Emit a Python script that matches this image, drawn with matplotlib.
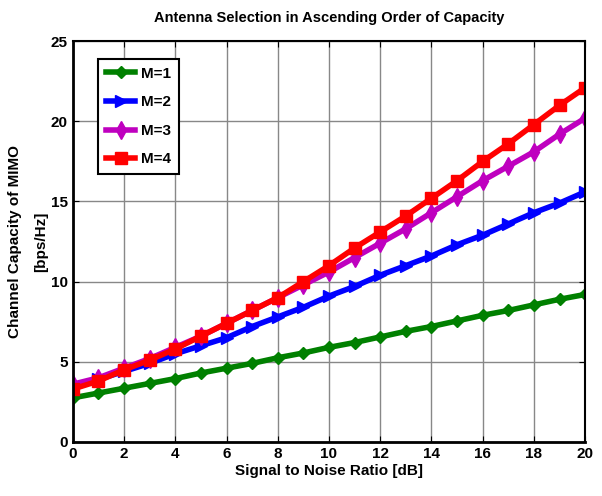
import matplotlib.pyplot as plt

plt.rcParams['font.family'] = ['Liberation Sans', 'DejaVu Sans']
plt.rcParams['font.weight'] = 'bold'

snr = list(range(0, 21))
m1 = [2.75, 3.05, 3.35, 3.65, 3.95, 4.3, 4.6, 4.9, 5.25, 5.55, 5.9,
      6.2, 6.55, 6.9, 7.2, 7.55, 7.9, 8.2, 8.55, 8.9, 9.2]
m2 = [3.5, 3.9, 4.4, 4.9, 5.5, 6.0, 6.5, 7.2, 7.8, 8.4, 9.1,
      9.7, 10.4, 11.0, 11.6, 12.3, 12.9, 13.6, 14.3, 14.9, 15.6]
m3 = [3.6, 4.0, 4.6, 5.2, 5.9, 6.6, 7.4, 8.2, 9.0, 9.8, 10.6,
      11.5, 12.4, 13.3, 14.3, 15.3, 16.3, 17.2, 18.1, 19.2, 20.2]
m4 = [3.3, 3.8, 4.5, 5.1, 5.8, 6.6, 7.4, 8.2, 9.0, 10.0, 11.0,
      12.1, 13.1, 14.1, 15.2, 16.3, 17.5, 18.6, 19.8, 21.0, 22.1]
labels = ['M=1', 'M=2', 'M=3', 'M=4']

fig = plt.figure(figsize=(6.02, 4.96), dpi=100)
ax = fig.add_axes([0.121, 0.109, 0.851, 0.808])

ax.plot(snr, m1, color='green', marker='D', markersize=6, linewidth=4, label=labels[0])
ax.plot(snr, m2, color='blue', marker='>', markersize=9, linewidth=4, label=labels[1])
ax.plot(snr, m3, color='m', marker='d', markersize=9, linewidth=4, label=labels[2])
ax.plot(snr, m4, color='red', marker='s', markersize=8, linewidth=4, label=labels[3])

ax.set_xlim(0, 20)
ax.set_ylim(0, 25)
ax.set_xticks(range(0, 21, 2))
ax.set_yticks(range(0, 26, 5))
ax.grid(True, color='#888888', linewidth=1, linestyle='-')
ax.tick_params(direction='in', labelsize=11, length=4, top=True, right=True)
for s in ax.spines.values():
    s.set_linewidth(1.5)
ax.spines['left'].set_linewidth(2)
ax.spines['bottom'].set_linewidth(2)

ax.set_title('Antenna Selection in Ascending Order of Capacity', fontsize=10.5,
             fontweight='bold', pad=14)
ax.set_xlabel('Signal to Noise Ratio [dB]', fontsize=11, fontweight='bold', labelpad=2)
ax.set_ylabel('Channel Capacity of MIMO\n[bps/Hz]', fontsize=11, fontweight='bold',
              labelpad=2, linespacing=2.1)

leg = ax.legend(loc='upper left', bbox_to_anchor=(0.05, 0.955), fancybox=False,
                edgecolor='black', framealpha=1, fontsize=11, handlelength=1.9,
                borderpad=0.5, labelspacing=0.95, handletextpad=0.4, borderaxespad=0)
leg.get_frame().set_linewidth(1.5)

fig.savefig('out.png', dpi=100)
